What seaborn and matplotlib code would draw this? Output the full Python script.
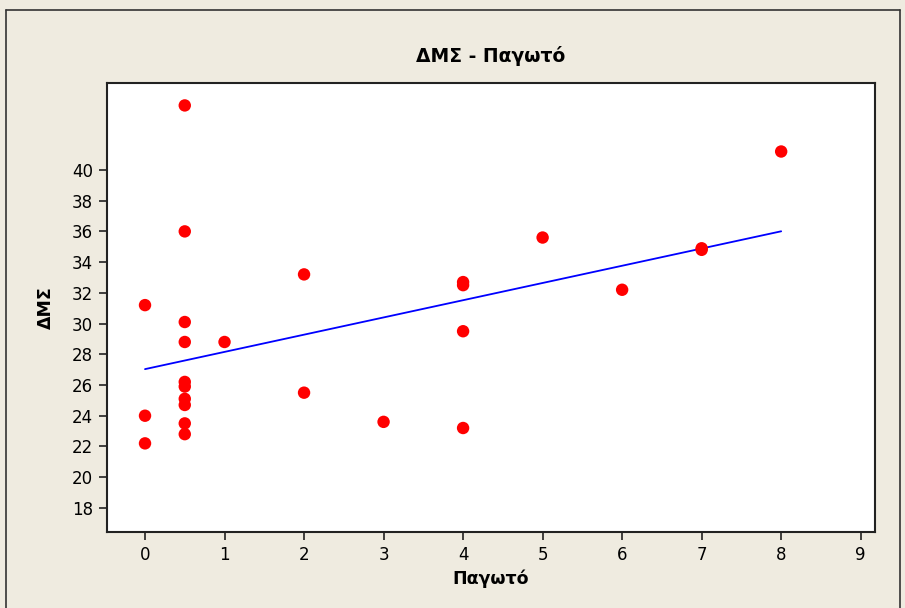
import matplotlib
matplotlib.use("Agg")
import matplotlib.pyplot as plt
import seaborn as sns
import pandas as pd
from matplotlib.lines import Line2D

# Data
pagoto = [0, 0, 0,
          0.5, 0.5, 0.5, 0.5, 0.5, 0.5, 0.5, 0.5, 0.5, 0.5,
          1, 2, 2, 3, 4, 4, 4, 4, 5, 6, 7, 7, 8]
dms = [31.2, 24.0, 22.2,
       44.2, 36.0, 30.1, 28.8, 26.2, 25.9, 25.1, 24.7, 23.5, 22.8,
       28.8, 33.2, 25.5, 23.6, 32.7, 32.5, 29.5, 23.2, 35.6, 32.2, 34.9, 34.8, 41.2]
x_ticks = [0, 1, 2, 3, 4, 5, 6, 7, 8, 9]
y_ticks = [18, 20, 22, 24, 26, 28, 30, 32, 34, 36, 38, 40]
title = "ΔΜΣ - Παγωτό"
x_label = "Παγωτό"
y_label = "ΔΜΣ"

df = pd.DataFrame({"Παγωτό": pagoto, "ΔΜΣ": dms})

sns.set_style("white")
plt.rcParams["font.family"] = ["DejaVu Sans"]
plt.rcParams["text.color"] = "black"
plt.rcParams["axes.labelcolor"] = "black"
plt.rcParams["xtick.color"] = "black"
plt.rcParams["ytick.color"] = "black"

bg = "#EFEBE0"
fig = plt.figure(figsize=(9.05, 6.08), dpi=100, facecolor=bg)
ax = fig.add_axes([107/905, 1 - 532/608, (875 - 107)/905, (532 - 83)/608])
ax.set_facecolor("white")

sns.regplot(data=df, x="Παγωτό", y="ΔΜΣ", ax=ax, ci=None,
            scatter_kws=dict(color="#FF0000", s=80, edgecolor="none", alpha=1, zorder=3),
            line_kws=dict(color="#0000FF", lw=1.3, zorder=2))

ax.set_xlim(-0.478, 9.18)
ax.set_ylim(16.43, 45.66)
ax.set_xticks(x_ticks)
ax.set_yticks(y_ticks)
ax.tick_params(axis="both", direction="out", length=6, width=1.2, color="#222222",
               labelcolor="black", labelsize=12, pad=4, left=True, bottom=True)
for s in ax.spines.values():
    s.set_color("#222222")
    s.set_linewidth(1.5)

ax.set_xlabel(x_label, fontsize=12.5, fontweight="bold", labelpad=4, color="black")
ax.set_ylabel(y_label, fontsize=12.5, fontweight="bold", labelpad=12, color="black")
ax.set_title(title, fontsize=13.5, fontweight="bold", pad=15, color="black")

# outer frame of the chart
W, H = 905, 608
frame_kw = dict(color="#333333", lw=1.2, transform=fig.transFigure)
fig.lines.append(Line2D([6/W, 900/W], [1 - 10/H, 1 - 10/H], **frame_kw))
fig.lines.append(Line2D([6/W, 6/W], [0, 1 - 10/H], **frame_kw))
fig.lines.append(Line2D([900/W, 900/W], [0, 1 - 10/H], **frame_kw))

fig.savefig("out.png", dpi=100, facecolor=bg)
